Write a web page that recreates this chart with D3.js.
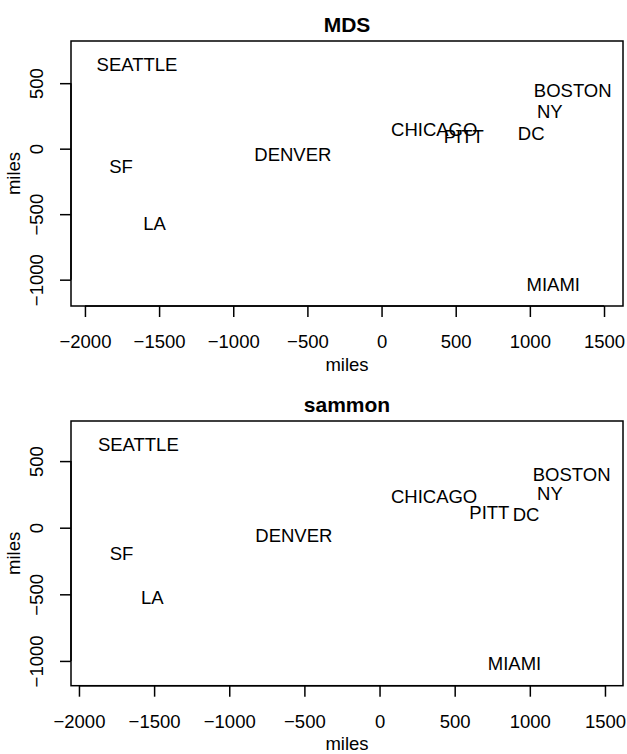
<!DOCTYPE html>
<html>
<head>
<meta charset="utf-8">
<script src="https://cdn.jsdelivr.net/npm/d3@7"></script>
<style>
  body { margin: 0; background: #fff; }
  svg { display: block; }
  text { font-family: "Liberation Sans", Arial, Helvetica, sans-serif; fill: #000; }
</style>
</head>
<body>
<svg id="chart" width="627" height="754"></svg>
<script>
// ---- data ----
const cities   = ["SEATTLE", "BOSTON", "NY", "CHICAGO", "PITT", "DC", "DENVER", "SF", "LA", "MIAMI"];
const mdsX     = [-1649, 1289, 1134, 355, 554, 1009, -598, -1757, -1531, 1158];
const mdsY     = [644, 443, 282, 148, 97, 117, -43, -132, -569, -1033];
const sammonX  = [-1605, 1278, 1134, 363, 731, 975, -570, -1717, -1512, 898];
const sammonY  = [623, 401, 260, 238, 118, 98, -57, -195, -526, -1016];
const xTicks   = [-2000, -1500, -1000, -500, 0, 500, 1000, 1500];
const yTicks   = [-1000, -500, 0, 500];
const titles   = ["MDS", "sammon"];
const axisTitle = "miles";

// ---- layout ----
const panels = [
  { title: titles[0], xs: mdsX, ys: mdsY, left: 71, right: 623, top: 41, bottom: 306,
    xDom: [-2094, 1628], yDom: [-1201, 822] },
  { title: titles[1], xs: sammonX, ys: sammonY, left: 71, right: 623, top: 421, bottom: 685.7,
    xDom: [-2053, 1620], yDom: [-1186, 801] }
];

const svg = d3.select("#chart");
const fs = 18.5;
const fmt = v => (v < 0 ? "\u2212" + Math.abs(v) : String(v));

panels.forEach(p => {
  const g = svg.append("g");
  const x = d3.scaleLinear().domain(p.xDom).range([p.left, p.right]);
  const y = d3.scaleLinear().domain(p.yDom).range([p.bottom, p.top]);

  // box
  g.append("rect")
    .attr("x", p.left).attr("y", p.top)
    .attr("width", p.right - p.left).attr("height", p.bottom - p.top)
    .attr("fill", "none").attr("stroke", "#000").attr("stroke-width", 1.5);

  // x axis
  const xAxis = d3.axisBottom(x).tickValues(xTicks).tickSize(11).tickPadding(0).tickFormat(fmt);
  const xg = g.append("g").attr("transform", `translate(0,${p.bottom})`).call(xAxis);
  xg.select(".domain").attr("d", `M${x(xTicks[0])},0H${x(xTicks[xTicks.length-1])}`)
    .attr("stroke", "#000").attr("stroke-width", 1.5);
  xg.selectAll(".tick line").attr("stroke", "#000").attr("stroke-width", 1.5);
  xg.selectAll(".tick text").attr("y", 42.4).attr("dy", null)
    .style("font-size", fs + "px").style("font-family", "Liberation Sans, Arial, sans-serif").attr("fill", "#000");

  // y axis
  const yAxis = d3.axisLeft(y).tickValues(yTicks).tickSize(11).tickPadding(0).tickFormat(fmt);
  const yg = g.append("g").attr("transform", `translate(${p.left},0)`).call(yAxis);
  yg.select(".domain").attr("d", `M0,${y(yTicks[0])}V${y(yTicks[yTicks.length-1])}`)
    .attr("stroke", "#000").attr("stroke-width", 1.5);
  yg.selectAll(".tick line").attr("stroke", "#000").attr("stroke-width", 1.5);
  yg.selectAll(".tick text")
    .attr("x", null).attr("dy", null)
    .attr("transform", "translate(-28,0) rotate(-90)")
    .attr("text-anchor", "middle")
    .attr("y", 0)
    .style("font-size", fs + "px").style("font-family", "Liberation Sans, Arial, sans-serif").attr("fill", "#000");

  // titles
  g.append("text")
    .attr("x", (p.left + p.right) / 2).attr("y", p.top - 9.5)
    .attr("text-anchor", "middle")
    .style("font-size", "21px").style("font-weight", "bold")
    .text(p.title);

  g.append("text")
    .attr("x", (p.left + p.right) / 2).attr("y", p.bottom + 64.5)
    .attr("text-anchor", "middle")
    .style("font-size", fs + "px")
    .text(axisTitle);

  g.append("text")
    .attr("transform", `translate(20,${(p.top + p.bottom) / 2}) rotate(-90)`)
    .attr("text-anchor", "middle")
    .style("font-size", fs + "px")
    .text(axisTitle);

  // city labels
  g.selectAll("text.city")
    .data(cities.map((c, i) => ({ name: c, vx: p.xs[i], vy: p.ys[i] })))
    .enter().append("text")
    .attr("class", "city")
    .attr("x", d => x(d.vx))
    .attr("y", d => y(d.vy))
    .attr("dy", "0.36em")
    .attr("text-anchor", "middle")
    .style("font-size", fs + "px")
    .text(d => d.name);
});
</script>
</body>
</html>
